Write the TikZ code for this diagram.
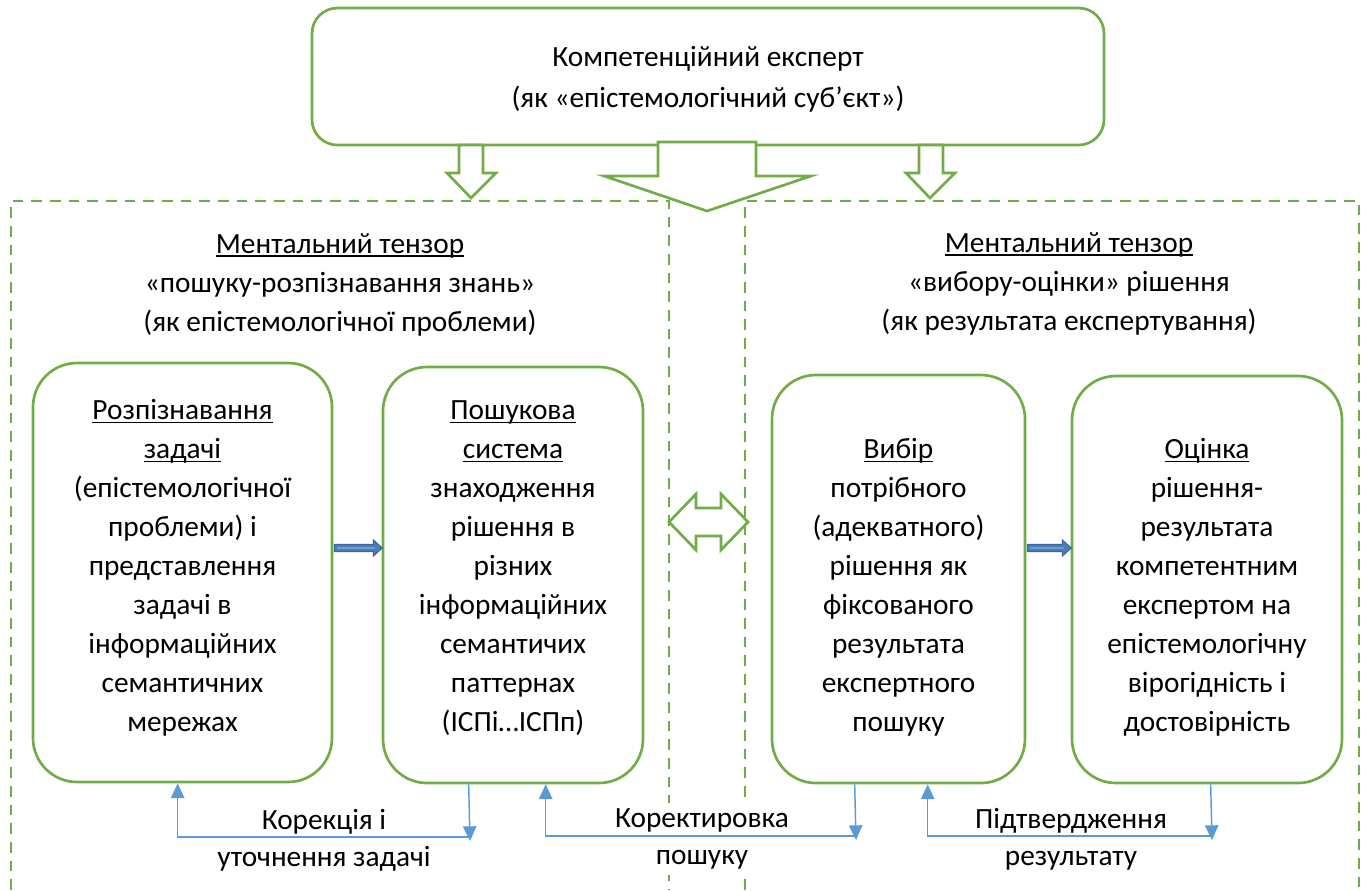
\documentclass[tikz,border=0pt]{standalone}
\usepackage{fontspec}
\setmainfont{Carlito}
\usetikzlibrary{arrows.meta,calc}
\definecolor{grn}{HTML}{70AD47}
\definecolor{cblue}{HTML}{5B9BD5}
\definecolor{abfill}{HTML}{4A7EBB}
\definecolor{abdraw}{HTML}{3A679C}
\definecolor{ablight}{HTML}{6F9BD0}
\newsavebox\myulbox
\newcommand{\myul}[1]{\sbox\myulbox{#1}\rlap{\rule[-2.8pt]{\wd\myulbox}{1pt}}\usebox\myulbox}
\tikzset{
  box/.style={draw=grn, line width=2pt, rounded corners=33pt, fill=white, inner sep=0pt},
  frame/.style={draw=grn, line width=1.9pt, dash pattern=on 8pt off 6pt},
  txt/.style={font=\fontsize{22}{29.25}\selectfont, align=center, inner sep=0pt, text=black},
  lbl/.style={txt, font=\fontsize{22}{27.75}\selectfont, fill=white, inner sep=4pt},
  bigarrow/.style={draw=grn, line width=2pt, fill=white, line join=miter},
  barrow/.style={draw=abdraw, line width=0.8pt, fill=abfill},
  conn/.style={draw=cblue, line width=1.1pt, -{Triangle[length=11pt,width=10pt]}},
}
\begin{document}
\begin{tikzpicture}[x=0.75pt,y=-0.75pt]
\useasboundingbox (0,0) rectangle (1367,890);

% dashed frames
\draw[frame] (11,890) -- (11,201) -- (669,201) -- (669,890);
\draw[frame] (745,890) -- (745,201) -- (1359,201) -- (1359,890);

% top box
\node[box, rounded corners=19pt, minimum width=594pt, minimum height=102.75pt] (top) at (708,76.5) {};
\node[txt, font=\fontsize{22}{30.75}\selectfont] (toptxt) at (708,79.5) {Компетенційний експерт\\(як «епістемологічний суб’єкт»)};

% top arrows
\draw[bigarrow] (459,145) -- (459,173) -- (447,173) -- (471,198) -- (496,173) -- (483,173) -- (483,145) -- cycle;
\draw[bigarrow] (658,142) -- (658,176) -- (604,176) -- (707,211) -- (811,176) -- (756,176) -- (756,142) -- cycle;
\draw[bigarrow] (919,145) -- (919,173) -- (906,173) -- (930,198) -- (955,173) -- (943,173) -- (943,145) -- cycle;

% headers
\node[txt] (hl) at (340,284.5) {\myul{Ментальний тензор}\\«пошуку-розпізнавання знань»\\(як епістемологічної проблеми)};
\node[txt] (hr) at (1069,283.5) {\myul{Ментальний тензор}\\«вибору-оцінки» рішення\\(як результата експертування)};

% boxes
\node[box, minimum width=224.25pt, minimum height=314.25pt] (b1) at (182.5,572.5) {};
\node[box, minimum width=195pt, minimum height=312pt] (b2) at (513,575) {};
\node[box, minimum width=189.75pt, minimum height=306pt] (b3) at (898.5,579) {};
\node[box, minimum width=202.5pt, minimum height=305.25pt] (b4) at (1207,579.5) {};

\node[txt] (t1) at (182.5,568) {\myul{Розпізнавання}\\\myul{задачі}\\(епістемологічної\\проблеми) і\\представлення\\задачі в\\інформаційних\\семантичних\\мережах};
\node[txt] (t2) at (513,568) {\myul{Пошукова}\\\myul{система}\\знаходження\\рішення в\\різних\\інформаційних\\семантичих\\паттернах\\(ІСПі…ІСПп)};
\node[txt] (t3) at (898.5,587.5) {\myul{Вибір}\\потрібного\\(адекватного)\\рішення як\\фіксованого\\результата\\експертного\\пошуку};
\node[txt] (t4) at (1207,587.5) {\myul{Оцінка}\\рішення-\\результата\\компетентним\\експертом на\\епістемологічну\\вірогідність і\\достовірність};

% double arrow
\draw[bigarrow] (669,522) -- (696,494) -- (696,508) -- (721,508) -- (721,494) -- (748,522) -- (721,550) -- (721,536) -- (696,536) -- (696,550) -- cycle;

% block arrows between boxes
\draw[barrow] (b1.east |- 0,548) ++(1,-3.5) -- ++(39,0) -- ++(0,-4.5) -- ++(9,8) -- ++(-9,8) -- ++(0,-4.5) -- ++(-39,0) -- cycle;
\draw[ablight, line width=1pt] (b1.east |- 0,548) ++(4,0) -- ++(38,0);
\draw[barrow] (b3.east |- 0,548) ++(1,-3.5) -- ++(35,0) -- ++(0,-4.5) -- ++(9,8) -- ++(-9,8) -- ++(0,-4.5) -- ++(-35,0) -- cycle;
\draw[ablight, line width=1pt] (b3.east |- 0,548) ++(4,0) -- ++(34,0);

% labels
\node[lbl] (l1) at (324,840) {Корекція і\\уточнення задачі};
\node[lbl] (l2) at (702,839) {Коректировка\\пошуку};
\node[lbl] (l3) at (1071,839) {Підтвердження\\результату};

% connectors
\coordinate (k1) at (470,837);
\coordinate (k2) at (856,836);
\coordinate (k3) at (1212,836);
\draw[conn] ([xshift=65.25pt]b2.south west) -- (470,841);
\draw[conn] (k1) -| ([xshift=109.5pt]b1.south west);
\draw[conn] ([xshift=63pt]b3.south west) -- (856,840);
\draw[conn] (k2) -| ([xshift=123pt]b2.south west);
\draw[conn] ([xshift=105pt]b4.south west) -- (1212,840);
\draw[conn] (k3) -| ([xshift=117.75pt]b3.south west);
\end{tikzpicture}
\end{document}
